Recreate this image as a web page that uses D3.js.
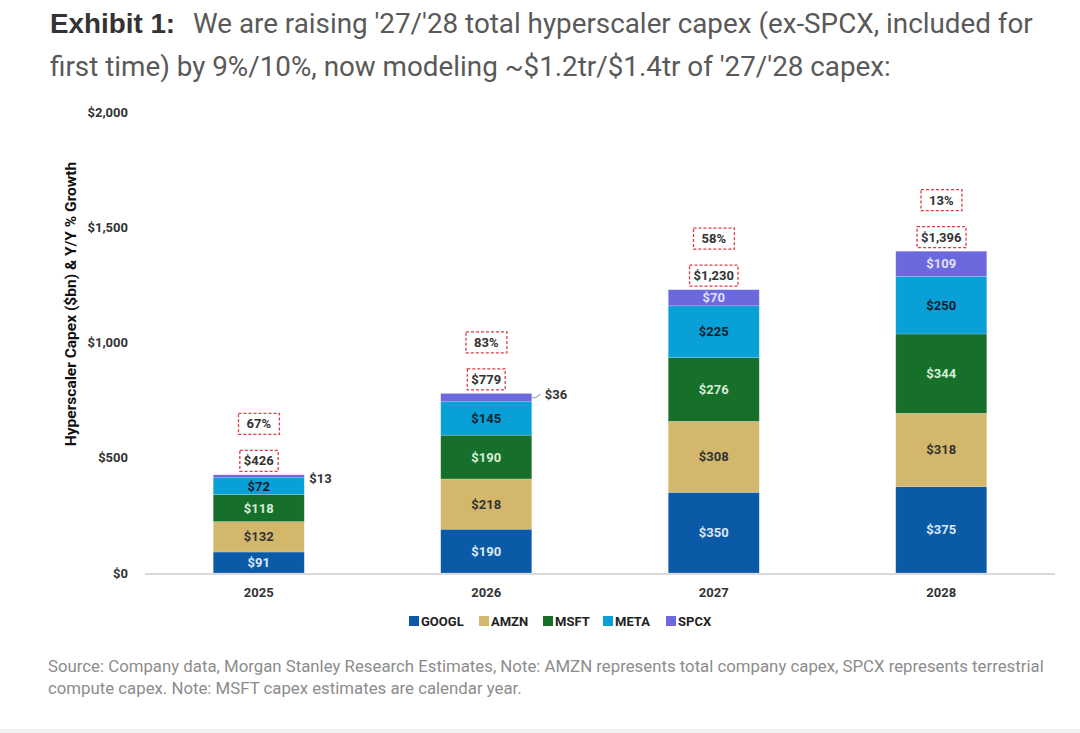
<!DOCTYPE html>
<html>
<head>
<meta charset="utf-8">
<script src="https://cdn.jsdelivr.net/npm/d3@7"></script>
<style>
  body { margin: 0; background: #fff; }
  svg text { font-family: "Roboto", sans-serif; }
</style>
</head>
<body>
<script>
// chart data
var years = ["2025", "2026", "2027", "2028"];
var companies = ["GOOGL", "AMZN", "MSFT", "META", "SPCX"];
var googl = [91, 190, 350, 375];
var amzn = [132, 218, 308, 318];
var msft = [118, 190, 276, 344];
var meta = [72, 145, 225, 250];
var spcx = [13, 36, 70, 109];
var totals = [426, 779, 1230, 1396];
var growth = ["67%", "83%", "58%", "13%"];
var yTicks = [0, 500, 1000, 1500, 2000];

var colors = ["#0b5aa7", "#d3b86b", "#16702a", "#08a0d6", "#6c69df"];
var labelColors = ["#dce8f6", "#333333", "#d8ecd8", "#10202e", "#e2e0fa"];

var rows = years.map(function (y, i) {
    return { year: y, GOOGL: googl[i], AMZN: amzn[i], MSFT: msft[i], META: meta[i], SPCX: spcx[i] };
});

var w = 1080, h = 733;

var svg = d3.select("body").append("svg")
    .attr("width", w)
    .attr("height", h);

// title
var title = svg.append("text")
    .attr("x", 50).attr("y", 33)
    .style("font-size", "27.8px")
    .attr("fill", "#595959");
title.append("tspan").text("Exhibit 1:")
    .style("font-family", "'Liberation Sans', Arial, sans-serif")
    .attr("font-weight", "bold").attr("fill", "#333");
title.append("tspan").attr("x", 193).text("We are raising '27/'28 total hyperscaler capex (ex-SPCX, included for");
svg.append("text")
    .attr("x", 50).attr("y", 76)
    .style("font-size", "27.8px")
    .attr("fill", "#595959")
    .text("first time) by 9%/10%, now modeling ~$1.2tr/$1.4tr of '27/'28 capex:");

var xScale = d3.scaleBand()
    .domain(years)
    .range([145, 1055])
    .paddingInner(0.6)
    .paddingOuter(0.3);

var yScale = d3.scaleLinear()
    .domain([0, 2000])
    .range([573, 112]);

// y axis labels
var yAxis = d3.axisLeft(yScale)
    .tickValues(yTicks)
    .tickSize(0)
    .tickPadding(0)
    .tickFormat(function (d) { return "$" + d3.format(",")(d); });

var gy = svg.append("g")
    .attr("transform", "translate(128,0)")
    .call(yAxis);
gy.select(".domain").remove();
gy.selectAll("text")
    .style("font-family", "Roboto, sans-serif")
    .style("font-size", "13px")
    .style("font-weight", "bold")
    .attr("fill", "#333");

svg.append("text")
    .attr("transform", "translate(76,304) rotate(-90)")
    .attr("text-anchor", "middle")
    .style("font-size", "15.5px")
    .style("font-weight", "bold")
    .attr("fill", "#111")
    .text("Hyperscaler Capex ($bn) & Y/Y % Growth");

// baseline
svg.append("line")
    .attr("x1", 145).attr("x2", 1055)
    .attr("y1", yScale(0) + 1).attr("y2", yScale(0) + 1)
    .attr("stroke", "#d9d9d9")
    .attr("stroke-width", 2);

// x axis
var xAxis = d3.axisBottom(xScale).tickSize(0).tickPadding(0);
var gx = svg.append("g")
    .attr("transform", "translate(0,597)")
    .call(xAxis);
gx.select(".domain").remove();
gx.selectAll("text")
    .style("font-family", "Roboto, sans-serif")
    .style("font-size", "13px")
    .style("font-weight", "bold")
    .attr("fill", "#333")
    .attr("dy", "0");

// stacked bars
var series = d3.stack().keys(companies)(rows);

var layers = svg.append("g").selectAll("g")
    .data(series)
    .enter().append("g")
    .attr("fill", function (d, i) { return colors[i]; });

layers.selectAll("rect")
    .data(function (d) { return d; })
    .enter().append("rect")
    .attr("x", function (d) { return xScale(d.data.year); })
    .attr("width", xScale.bandwidth())
    .attr("y", function (d) { return yScale(d[1]); })
    .attr("height", function (d) { return yScale(d[0]) - yScale(d[1]); })
    .attr("stroke", "#fff")
    .attr("stroke-opacity", 0.3)
    .attr("stroke-width", 0.6);

// segment labels
series.forEach(function (s, si) {
    s.forEach(function (d) {
        var v = d[1] - d[0];
        var cx = xScale(d.data.year) + xScale.bandwidth() / 2;
        var cy = (yScale(d[0]) + yScale(d[1])) / 2;
        var inside = yScale(d[0]) - yScale(d[1]) > 12;
        if (inside) {
            svg.append("text")
                .attr("x", cx).attr("y", cy)
                .attr("dy", "0.35em")
                .attr("text-anchor", "middle")
                .style("font-size", "13px")
                .style("font-weight", "bold")
                .attr("fill", labelColors[si])
                .text("$" + v);
        } else {
            var xr = xScale(d.data.year) + xScale.bandwidth();
            var lx = xr + 5;
            if (d.data.year === "2026") {
                svg.append("path")
                    .attr("d", "M" + xr + "," + cy + " L" + (xr + 4) + "," + cy + " L" + (xr + 9) + "," + (cy - 3.5))
                    .attr("fill", "none")
                    .attr("stroke", "#b0b0b0")
                    .attr("stroke-width", 1.2);
                lx = xr + 13;
                cy = cy - 3.5;
            } else {
                cy = cy + 2;
            }
            svg.append("text")
                .attr("x", lx).attr("y", cy)
                .attr("dy", "0.35em")
                .style("font-size", "13px")
                .style("font-weight", "bold")
                .attr("fill", "#333")
                .text("$" + v);
        }
    });
});

// total and growth boxes
function boxLabel(x, y, txt, padX) {
    var t = svg.append("text")
        .attr("x", x).attr("y", y)
        .attr("dy", "0.35em")
        .attr("text-anchor", "middle")
        .style("font-size", "13px")
        .style("font-weight", "bold")
        .attr("fill", "#333")
        .text(txt);
    var bb = t.node().getBBox();
    svg.insert("rect", "text")
        .attr("x", bb.x - padX).attr("y", y - 10.5)
        .attr("width", bb.width + 2 * padX).attr("height", 21)
        .attr("fill", "none")
        .attr("stroke", "#dc3d44")
        .attr("stroke-width", 1.3)
        .attr("stroke-dasharray", "3,2");
}

var stackTop = series[series.length - 1];
years.forEach(function (y, i) {
    var cx = xScale(y) + xScale.bandwidth() / 2;
    var top = yScale(stackTop[i][1]);
    boxLabel(cx, top - 14, "$" + d3.format(",")(totals[i]), 4);
    boxLabel(cx, top - 51, growth[i], 8);
});

// legend
var legend = svg.append("g").attr("transform", "translate(409,621)");
var legX = [0, 70, 134, 194, 257];
companies.forEach(function (c, i) {
    var g = legend.append("g").attr("transform", "translate(" + legX[i] + ",0)");
    g.append("rect").attr("x", 0).attr("y", -5).attr("width", 10).attr("height", 10).attr("fill", colors[i]);
    g.append("text").attr("x", 12).attr("y", 0).attr("dy", "0.35em")
        .style("font-size", "13px").style("font-weight", "bold").attr("fill", "#222").text(c);
});

// footer
var foot = ["Source: Company data, Morgan Stanley Research Estimates, Note: AMZN represents total company capex, SPCX represents terrestrial",
    "compute capex. Note: MSFT capex estimates are calendar year."];
foot.forEach(function (f, i) {
    svg.append("text")
        .attr("x", 48).attr("y", 672 + i * 22)
        .style("font-size", "16.8px")
        .attr("fill", "#8c8c8c")
        .text(f);
});

svg.append("rect")
    .attr("x", 0).attr("y", 729).attr("width", w).attr("height", 4)
    .attr("fill", "#efefef");
</script>
</body>
</html>
